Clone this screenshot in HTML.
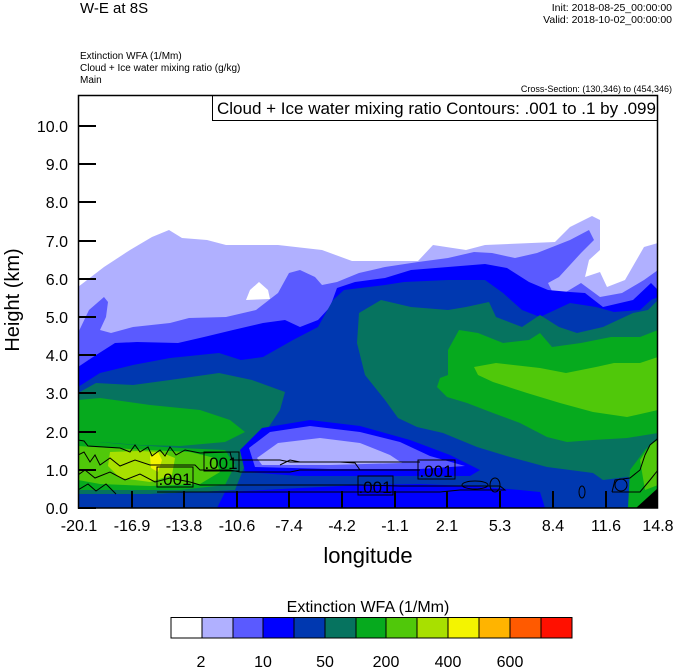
<!DOCTYPE html>
<html><head><meta charset="utf-8"><style>
body{margin:0;background:#fff;}
svg text{font-family:"Liberation Sans",Arial,sans-serif;fill:#000;}
</style></head><body>
<svg width="674" height="667" viewBox="0 0 674 667" xmlns="http://www.w3.org/2000/svg">
<defs><clipPath id="c"><rect x="78" y="95" width="580" height="413"/></clipPath></defs>
<text x="80" y="13" font-size="15">W-E at 8S</text>
<text x="672" y="11" font-size="10.5" text-anchor="end">Init: 2018-08-25_00:00:00</text>
<text x="672" y="23" font-size="10.5" text-anchor="end">Valid: 2018-10-02_00:00:00</text>
<text x="80" y="59" font-size="10">Extinction WFA  (1/Mm)</text>
<text x="80" y="71" font-size="10">Cloud + Ice water mixing ratio   (g/kg)</text>
<text x="80" y="83" font-size="10">Main</text>
<text x="672" y="92" font-size="9" text-anchor="end">Cross-Section: (130,346) to (454,346)</text>
<g clip-path="url(#c)">
<rect x="78" y="95" width="580" height="413" fill="#fff"/>
<polygon fill="#b0b0ff" points="78,287 104,267 130,250 152,237 169,230 182,238 207,240 226,245 278,245 322,250 352,261 418,261 433,245 466,250 485,245 555,242 570,227 592,216 600,220 600,250 589,260 585,277 600,272 607,287 625,280 644,247 658,243 658,508 78,508"/>
<polygon fill="#fff" points="246,300 250,290 259,282 268,290 270,299"/>
<polygon fill="#5a5aff" points="78,333 89,310 104,297 108,302 106,317 100,330 111,333 133,327 170,323 189,318 226,317 256,310 278,293 289,273 300,270 315,277 322,285 337,282 359,273 385,267 418,262 448,258 474,252 492,253 515,258 537,253 570,240 589,230 594,240 581,253 559,277 548,283 555,297 566,292 581,283 600,297 622,293 644,280 658,270 658,508 78,508"/>
<polygon fill="#0000ff" points="78,367 93,357 115,343 137,342 178,343 204,337 233,330 263,323 285,320 300,327 318,320 330,307 337,288 355,282 385,278 411,270 448,267 485,264 507,268 529,282 548,290 570,292 585,293 603,307 633,300 651,283 658,290 658,508 78,508"/>
<polygon fill="#0038b0" points="78,387 100,373 133,365 170,358 219,353 241,360 263,357 293,340 318,327 333,300 344,290 385,285 404,282 448,280 485,280 503,293 522,310 540,317 570,303 596,307 614,312 640,310 651,300 658,297 658,508 78,508"/>
<polygon fill="#06735f" points="78,393 96,383 133,385 170,380 219,373 252,380 285,392 280,410 260,440 245,465 235,490 200,492 150,494 78,494"/>
<polygon fill="#06aa1e" points="78,400 100,398 150,405 200,410 230,420 245,432 225,442 180,446 140,445 100,442 78,442"/>
<polygon fill="#06aa1e" points="78,440 120,444 180,448 225,450 235,465 225,485 180,490 120,490 78,490"/>
<polygon fill="#50c80a" points="78,446 110,448 150,450 190,452 215,458 220,472 200,484 150,486 100,484 78,480"/>
<polygon fill="#a8e000" points="110,452 140,451 160,452 175,458 172,475 150,482 120,478 108,466"/>
<polygon fill="#f4f400" points="150,456 158,452 162,460 158,472 151,468"/>
<polygon fill="#0038b0" points="78,494 150,494 200,492 235,490 240,508 78,508"/>
<polygon fill="#0000ff" points="240,450 262,428 310,420 360,426 410,440 450,455 480,470 470,476 400,476 300,476 245,472"/>
<polygon fill="#5a5aff" points="249,448 270,432 310,426 360,432 400,442 430,456 465,466 420,469 330,469 255,467"/>
<polygon fill="#b0b0ff" points="257,458 278,443 320,438 360,443 390,455 402,463 330,465 262,465"/>
<polygon fill="#0000ff" points="217,508 225,492 300,488 360,485 420,484 470,486 520,490 540,492 545,508"/>
<polygon fill="#06735f" points="359,313 381,300 411,307 448,310 466,307 489,302 496,317 522,327 540,315 559,327 577,333 603,327 633,313 648,310 658,300 658,490 640,480 627,477 603,480 593,473 547,467 510,457 477,447 443,433 417,427 398,418 385,400 365,375 357,343"/>
<polygon fill="#06aa1e" points="448,350 459,330 478,333 503,343 529,340 540,333 552,347 581,343 611,337 640,337 658,330 658,433 627,438 593,440 567,442 547,437 520,423 493,413 467,403 447,397 437,387 440,378 448,375"/>
<polygon fill="#50c80a" points="474,367 496,363 540,368 566,373 596,367 614,363 640,363 658,357 658,410 627,417 593,412 560,403 527,393 493,382 478,375"/>
<polygon fill="#06aa1e" points="630,470 645,450 658,438 658,508 628,508"/>
<polygon fill="#50c80a" points="640,460 650,445 658,440 658,485 645,490"/>
<polygon fill="#000" points="636,508 658,488 658,508"/>
<g fill="none" stroke="#000" stroke-width="1">
<polyline points="78,440 84,441 88,446 120,448 130,452 135,445 140,452 148,447 152,456 160,450 165,456 170,447 176,455 185,450 195,452 200,453 230,452 232,460 280,460 290,462 420,462"/>
<polyline points="78,455 84,452 90,462 95,455 100,465 110,458 120,466 135,460 150,465 170,465 195,465 200,470 230,470 240,472 290,472 300,470 420,470"/>
<polyline points="78,475 85,470 95,478 110,472 125,480 140,474 155,482 170,478 190,482 200,485 360,485 400,486 500,486 505,490 460,490 440,492 300,492 157,492"/>
<polyline points="280,465 290,460 300,462 340,462 355,463 360,470"/>
<polyline points="78,490 88,484 96,491 106,484 116,494"/>
<ellipse cx="475" cy="485" rx="13" ry="4"/>
<ellipse cx="495" cy="485" rx="5" ry="7"/>
<ellipse cx="582" cy="492" rx="3" ry="6"/>
<ellipse cx="621" cy="485" rx="6" ry="6"/>
<polyline points="612,492 615,480 630,478 640,470 645,455 650,445 656,440 658,438"/>
<polyline points="612,492 640,492 650,480 658,470"/>
</g>
<g fill="none" stroke="#000" stroke-width="1">
<rect x="204" y="452" width="35" height="19"/>
<rect x="157" y="467" width="36" height="20"/>
<rect x="358" y="476" width="35" height="19"/>
<rect x="418" y="460" width="37" height="19"/>
</g>
<g font-size="17">
<text x="221" y="469" text-anchor="middle">.001</text>
<text x="175" y="485" text-anchor="middle">.001</text>
<text x="375" y="493" text-anchor="middle">.001</text>
<text x="436" y="477" text-anchor="middle">.001</text>
</g>
</g>
<rect x="212.5" y="95.5" width="445" height="25" fill="#fff" stroke="#000"/>
<text x="217" y="114" font-size="17">Cloud + Ice water mixing ratio Contours: .001 to .1 by .099</text>
<rect x="78.5" y="95.5" width="579" height="412.5" fill="none" stroke="#000" stroke-width="1.5"/>
<g stroke="#000" stroke-width="2">
<line x1="78" y1="508" x2="96" y2="508"/><line x1="78" y1="470" x2="96" y2="470"/><line x1="78" y1="432" x2="96" y2="432"/><line x1="78" y1="393" x2="96" y2="393"/><line x1="78" y1="355" x2="96" y2="355"/><line x1="78" y1="317" x2="96" y2="317"/><line x1="78" y1="279" x2="96" y2="279"/><line x1="78" y1="241" x2="96" y2="241"/><line x1="78" y1="202" x2="96" y2="202"/><line x1="78" y1="164" x2="96" y2="164"/><line x1="78" y1="126" x2="96" y2="126"/>
<line x1="132" y1="508" x2="132" y2="491"/><line x1="184" y1="508" x2="184" y2="491"/><line x1="237" y1="508" x2="237" y2="491"/><line x1="289" y1="508" x2="289" y2="491"/><line x1="342" y1="508" x2="342" y2="491"/><line x1="395" y1="508" x2="395" y2="491"/><line x1="447" y1="508" x2="447" y2="491"/><line x1="500" y1="508" x2="500" y2="491"/><line x1="553" y1="508" x2="553" y2="491"/><line x1="606" y1="508" x2="606" y2="491"/>
</g>
<g font-size="16" text-anchor="end">
<text x="68" y="514">0.0</text><text x="68" y="476">1.0</text><text x="68" y="438">2.0</text><text x="68" y="399">3.0</text><text x="68" y="361">4.0</text><text x="68" y="323">5.0</text><text x="68" y="285">6.0</text><text x="68" y="247">7.0</text><text x="68" y="208">8.0</text><text x="68" y="170">9.0</text><text x="68" y="132">10.0</text>
</g>
<g font-size="16" text-anchor="middle">
<text x="79" y="531">-20.1</text><text x="132" y="531">-16.9</text><text x="184" y="531">-13.8</text><text x="237" y="531">-10.6</text><text x="289" y="531">-7.4</text><text x="342" y="531">-4.2</text><text x="395" y="531">-1.1</text><text x="447" y="531">2.1</text><text x="500" y="531">5.3</text><text x="553" y="531">8.4</text><text x="606" y="531">11.6</text><text x="658" y="531">14.8</text>
</g>
<text x="368" y="563" font-size="22" text-anchor="middle">longitude</text>
<text transform="translate(19,300) rotate(-90)" font-size="20" text-anchor="middle">Height (km)</text>
<text x="368" y="612" font-size="16" text-anchor="middle">Extinction WFA  (1/Mm)</text>
<g stroke="#000" stroke-width="1">
<rect x="171" y="617.5" width="31" height="20.5" fill="#fff"/>
<rect x="202" y="617.5" width="31" height="20.5" fill="#b0b0ff"/>
<rect x="233" y="617.5" width="30" height="20.5" fill="#5a5aff"/>
<rect x="263" y="617.5" width="31" height="20.5" fill="#0000ff"/>
<rect x="294" y="617.5" width="31" height="20.5" fill="#0038b0"/>
<rect x="325" y="617.5" width="31" height="20.5" fill="#06735f"/>
<rect x="356" y="617.5" width="30" height="20.5" fill="#06aa1e"/>
<rect x="386" y="617.5" width="31" height="20.5" fill="#50c80a"/>
<rect x="417" y="617.5" width="31" height="20.5" fill="#a8e000"/>
<rect x="448" y="617.5" width="31" height="20.5" fill="#f4f400"/>
<rect x="479" y="617.5" width="31" height="20.5" fill="#ffb400"/>
<rect x="510" y="617.5" width="31" height="20.5" fill="#ff5a00"/>
<rect x="541" y="617.5" width="31" height="20.5" fill="#ff1000"/>
</g>
<g font-size="16" text-anchor="middle">
<text x="201" y="667">2</text><text x="263" y="667">10</text><text x="325" y="667">50</text><text x="386" y="667">200</text><text x="448" y="667">400</text><text x="510" y="667">600</text>
</g>
</svg>
</body></html>
